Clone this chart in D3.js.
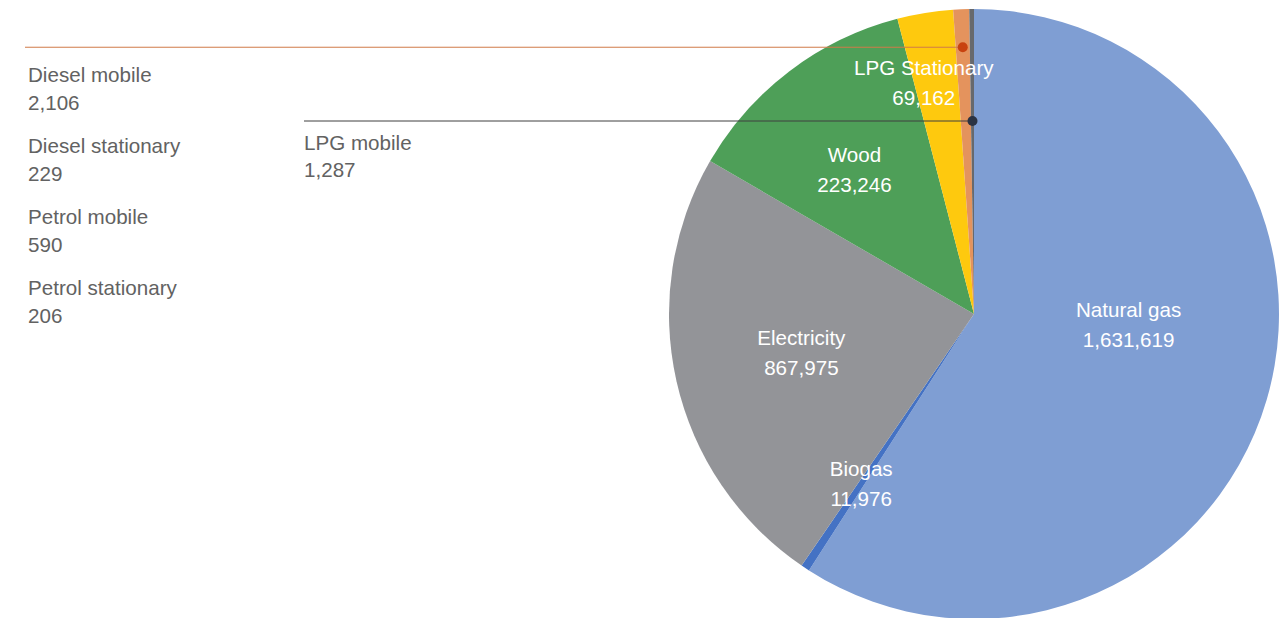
<!DOCTYPE html>
<html>
<head>
<meta charset="utf-8">
<script src="https://cdn.jsdelivr.net/npm/d3@7"></script>
<style>
  body { margin: 0; background: #fff; }
  svg text { font-family: "Liberation Sans", Arial, sans-serif; }
</style>
</head>
<body>
<div id="chart"></div>
<script>
// slices, clockwise from 12 o'clock
const categories = ["Natural gas", "Biogas", "Electricity", "Wood", "LPG Stationary", "Diesel mobile", "LPG mobile"];
const valueLabels = ["1,631,619", "11,976", "867,975", "223,246", "69,162", "2,106", "1,287"];
// share of the circle as drawn in the picture (%)
const sliceShare = [59.1, 0.46, 23.8, 12.6, 2.95, 0.84, 0.25];
const colors = ["#7f9ed3", "#4472c4", "#939498", "#4e9f58", "#fec90e", "#e4935d", "#67696d"];

// small items listed on the left
const sideNames = ["Diesel mobile", "Diesel stationary", "Petrol mobile", "Petrol stationary"];
const sideValues = ["2,106", "229", "590", "206"];

const width = 1287, height = 618;
const cx = 974, cy = 314, radius = 305;
const fontSize = '20.6px';

const svg = d3.select('#chart').append('svg')
    .attr('width', width)
    .attr('height', height);

const pie = d3.pie().sort(null).value(d => d.share);
const data = categories.map((c, i) => ({name: c, label: valueLabels[i], share: sliceShare[i], color: colors[i]}));
const arcs = pie(data);

const arc = d3.arc().innerRadius(0).outerRadius(radius);

const g = svg.append('g').attr('transform', `translate(${cx},${cy})`);

g.selectAll('path').data(arcs)
    .enter().append('path')
    .attr('d', arc)
    .attr('fill', d => d.data.color);

// polar helper (angle in radians, clockwise from top)
function polar(a, r) {
    return [r * Math.sin(a), -r * Math.cos(a)];
}

// inside labels: radius and angle nudge (deg) per slice
const inside = {
    "Natural gas": [155, -12.4],
    "Biogas": [204, 0],
    "Electricity": [177, 0],
    "Wood": [187, -2.5],
    "LPG Stationary": [237, -3]
};

arcs.forEach(d => {
    const cfg = inside[d.data.name];
    if (!cfg) return;
    const mid = (d.startAngle + d.endAngle) / 2 + cfg[1] * Math.PI / 180;
    const p = polar(mid, cfg[0]);
    const t = g.append('text')
        .attr('text-anchor', 'middle')
        .attr('fill', '#fff')
        .style('font-size', fontSize);
    t.append('tspan').attr('x', p[0]).attr('y', p[1] - 15).attr('dy', '0.35em').text(d.data.name);
    t.append('tspan').attr('x', p[0]).attr('y', p[1] + 15).attr('dy', '0.35em').text(d.data.label);
});

// leader lines for the tiny slices
const leaders = {
    "Diesel mobile": {r: 267, x0: 25, line: "#d07a48", dot: "#c8420f"},
    "LPG mobile": {r: 193, x0: 304, line: "#3e3e3e", dot: "#2b3343"}
};

arcs.forEach(d => {
    const cfg = leaders[d.data.name];
    if (!cfg) return;
    const mid = (d.startAngle + d.endAngle) / 2;
    const p = polar(mid, cfg.r);
    g.append('line')
        .attr('x1', cfg.x0 - cx).attr('x2', p[0])
        .attr('y1', p[1]).attr('y2', p[1])
        .attr('stroke', cfg.line)
        .attr('stroke-width', 1);
    g.append('circle')
        .attr('cx', p[0]).attr('cy', p[1])
        .attr('r', 5)
        .attr('fill', cfg.dot);
});

// LPG mobile label under its line
const lpgText = svg.append('text')
    .attr('fill', '#626262')
    .style('font-size', fontSize);
lpgText.append('tspan').attr('x', 304).attr('y', 150).text(categories[6]);
lpgText.append('tspan').attr('x', 304).attr('y', 177).text(valueLabels[6]);

// left list
const side = svg.append('g');
sideNames.forEach((n, i) => {
    const t = side.append('text')
        .attr('fill', '#626262')
        .style('font-size', fontSize);
    t.append('tspan').attr('x', 28).attr('y', 82 + i * 71).text(n);
    t.append('tspan').attr('x', 28).attr('y', 110 + i * 71).text(sideValues[i]);
});
</script>
</body>
</html>
